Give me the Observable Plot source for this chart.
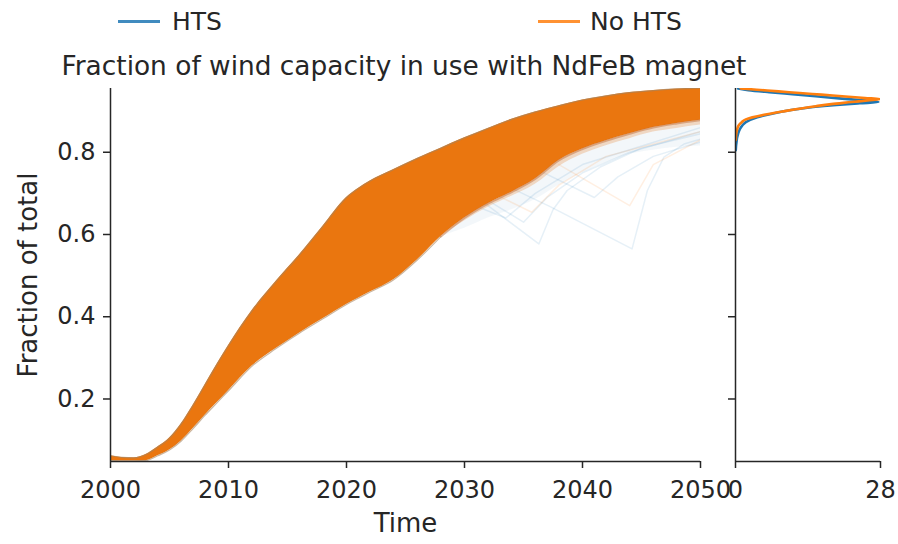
<!DOCTYPE html>
<html><head><meta charset="utf-8">
<script src="https://cdn.jsdelivr.net/npm/d3@7"></script>
<script src="https://cdn.jsdelivr.net/npm/@observablehq/plot@0.6"></script>
<style>
body{margin:0;background:#fff;}
#wrap{position:relative;width:898px;height:544px;font-family:"DejaVu Sans";color:#262626;overflow:hidden;}
#wrap svg{position:absolute;left:0;top:0;}
.legline{position:absolute;height:3px;width:42px;opacity:0.85;}
.legtxt{position:absolute;font-size:25px;line-height:25px;}
#title{position:absolute;left:0;width:808px;text-align:center;top:51px;font-size:26.4px;line-height:29px;}
</style></head><body><div id="wrap">
<div class="legline" style="left:118px;top:20px;background:#1f77b4"></div><div class="legtxt" style="left:172px;top:9px">HTS</div>
<div class="legline" style="left:538px;top:20px;background:#ff7f0e"></div><div class="legtxt" style="left:590px;top:9px">No HTS</div>
<div id="title">Fraction of wind capacity in use with NdFeB magnet</div>
</div>
<script>
// ---- data ----
const years = [2000,2001,2002,2003,2004,2005,2006,2007,2008,2009,2010,2012,2014,2016,2018,2020,2021,2022,2024,2026,2028,2030,2032,2034,2036,2038,2040,2042,2044,2046,2048,2050];
const upper = [0.062,0.058,0.057,0.065,0.083,0.105,0.14,0.185,0.234,0.283,0.33,0.415,0.485,0.55,0.62,0.69,0.712,0.73,0.758,0.785,0.81,0.835,0.858,0.88,0.898,0.913,0.927,0.937,0.945,0.95,0.954,0.956];
const lower = [0.05,0.049,0.049,0.05,0.062,0.076,0.098,0.128,0.16,0.19,0.22,0.28,0.322,0.36,0.395,0.43,0.445,0.46,0.49,0.538,0.595,0.64,0.675,0.703,0.735,0.78,0.808,0.828,0.845,0.86,0.87,0.878];
// fading lower fringe of the ensemble (2028 onward)
const fadeYears = [2028,2030,2032,2034,2036,2038,2040,2042,2044,2046,2048,2050];
const fadeMid   = [0.595,0.633,0.666,0.693,0.722,0.765,0.795,0.816,0.833,0.849,0.858,0.866];
const fadeLow   = [0.595,0.615,0.64,0.66,0.685,0.72,0.75,0.775,0.795,0.805,0.812,0.815];
// individual outlier runs
const htsRunA = [[2029,0.735],[2036.3,0.577],[2037.5,0.66],[2038.7,0.707],[2041.5,0.764],[2045,0.81],[2050,0.845]];
const htsRunB = [[2032,0.74],[2037.3,0.667],[2044.2,0.565],[2045.5,0.707],[2046.9,0.788],[2048.6,0.82],[2050,0.832]];
const htsRunC = [[2031,0.70],[2035,0.63],[2037,0.69],[2040,0.75],[2044,0.80],[2050,0.85]];
const htsRunD = [[2036,0.76],[2041,0.69],[2043,0.74],[2046,0.79],[2050,0.825]];
const htsRunE = [[2030,0.68],[2033.5,0.64],[2036,0.7],[2040,0.77],[2050,0.86]];
const noRunA  = [[2031,0.72],[2035.7,0.654],[2038,0.72],[2042,0.79],[2050,0.85]];
const noRunB  = [[2038,0.77],[2044,0.67],[2046,0.77],[2050,0.83]];
// density of the values (right panel)
const kdeNoY  = [0.830,0.840,0.849,0.857,0.865,0.873,0.880,0.891,0.900,0.905,0.912,0.917,0.922,0.926,0.929,0.932,0.935,0.940,0.944,0.948,0.952,0.955];
const kdeNoD  = [0.05,0.1,0.2,0.35,0.6,1.2,2.0,5.5,9.5,11.9,15.5,18.5,22.5,25.5,28,25,21.8,16.6,12.4,8.3,4.1,1.0];
const kdeHtsY = [0.805,0.815,0.825,0.835,0.845,0.855,0.865,0.873,0.885,0.895,0.902,0.910,0.915,0.919,0.922,0.924,0.927,0.931,0.936,0.941,0.946,0.951,0.955];
const kdeHtsD = [0.05,0.1,0.2,0.3,0.5,0.8,1.3,2.0,4.2,7.5,10.5,15.0,19.5,24.0,27.6,26.5,24.0,20.0,15.5,11.0,6.5,2.5,0.5];
const xTicks = [2000,2010,2020,2030,2040,2050];
const yTicks = [0.2,0.4,0.6,0.8];
const kdeTicks = [0,28];

// ---- layout ----
const W = 898, H = 544;
const yDomain = [0.048, 0.955];
const blue = "#1f77b4", orange = "#ff7f0e";
const baseStyle = {fontFamily:"DejaVu Sans", fontSize:"24px", color:"#262626", background:"transparent", overflow:"visible"};

const band = years.map((t,i)=>({t, lo:lower[i], hi:upper[i]}));
const fade = fadeYears.map((t,i)=>({t, mid:fadeMid[i], low:fadeLow[i], lo: lower[years.indexOf(t)]}));
const run = (pts) => pts.map(([t,v])=>({t,v}));

const main = Plot.plot({
  width: W, height: H,
  marginLeft: 110, marginRight: W-700, marginTop: 88, marginBottom: H-461,
  x: {domain:[2000,2050]},
  y: {domain: yDomain},
  style: baseStyle,
  marks: [
    Plot.areaY(fade, {x:"t", y1:"low", y2:"mid", fill:"#c9d9e8", fillOpacity:0.22, curve:"monotone-x", clip:true}),
    ...[htsRunA,htsRunB,htsRunC,htsRunD,htsRunE].map(r => Plot.line(run(r), {x:"t", y:"v", stroke:blue, strokeOpacity:0.11, strokeWidth:1.5, clip:true})),
    ...[noRunA,noRunB].map(r => Plot.line(run(r), {x:"t", y:"v", stroke:orange, strokeOpacity:0.12, strokeWidth:1.5, clip:true})),
    Plot.areaY(fade, {x:"t", y1:"mid", y2:"lo", fill:"#d69a68", fillOpacity:0.4, curve:"monotone-x", clip:true}),
    Plot.areaY(band, {x:"t", y1:"lo", y2:"hi", fill:"#ea760f", curve:"monotone-x", clip:true}),
    Plot.line(band, {x:"t", y:"hi", stroke:"#a8845e", strokeWidth:1.2, strokeOpacity:0.7, curve:"monotone-x", clip:true}),
    Plot.line(band.filter(d=>d.t<=2028), {x:"t", y:"lo", stroke:"#a8845e", strokeWidth:1.2, strokeOpacity:0.6, curve:"monotone-x", clip:true}),
    Plot.line(band.filter(d=>d.t>=2028), {x:"t", y:"lo", stroke:"#c4703a", strokeWidth:2, strokeOpacity:0.5, curve:"monotone-x", clip:true}),
    Plot.ruleX([2000], {stroke:"#262626", strokeWidth:1.5}),
    Plot.ruleY([yDomain[0]], {stroke:"#262626", strokeWidth:1.5}),
    Plot.axisX({ticks:xTicks, tickFormat:"d", tickSize:7, tickPadding:12, label:null, strokeWidth:1.5}),
    Plot.axisY({ticks:yTicks, tickFormat:".1f", tickSize:7, tickPadding:8, label:null, strokeWidth:1.5}),
    Plot.text(["Time"], {frameAnchor:"bottom", dy:70, fontSize:26, fill:"#262626"}),
    Plot.text(["Fraction of total"], {frameAnchor:"left", dx:-82, rotate:-90, textAnchor:"middle", lineAnchor:"middle", fontSize:26, fill:"#262626"})
  ]
});

const side = Plot.plot({
  width: W, height: H,
  marginLeft: 735, marginRight: W-880, marginTop: 88, marginBottom: H-461,
  x: {domain:[0,28]},
  y: {domain: yDomain},
  style: baseStyle,
  marks: [
    Plot.line(kdeHtsY.map((y,i)=>({y, d:kdeHtsD[i]})), {x:"d", y:"y", stroke:blue, strokeWidth:2.6, curve:"monotone-y", clip:true}),
    Plot.line(kdeNoY.map((y,i)=>({y, d:kdeNoD[i]})), {x:"d", y:"y", stroke:orange, strokeWidth:2.6, curve:"monotone-y", clip:true}),
    Plot.ruleX([0], {stroke:"#262626", strokeWidth:1.5}),
    Plot.ruleY([yDomain[0]], {stroke:"#262626", strokeWidth:1.5}),
    Plot.axisX({ticks:kdeTicks, tickFormat:"d", tickSize:7, tickPadding:12, label:null, strokeWidth:1.5}),
    Plot.axisY({ticks:yTicks, tickFormat:()=>"", tickSize:7, label:null, strokeWidth:1.5})
  ]
});

const wrap = document.getElementById("wrap");
wrap.insertBefore(main, wrap.firstChild);
wrap.insertBefore(side, wrap.firstChild.nextSibling);
</script>
</body></html>
